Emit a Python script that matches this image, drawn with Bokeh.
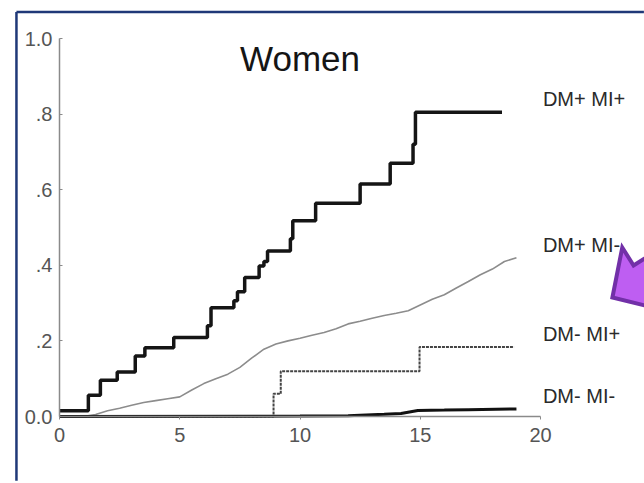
from bokeh.plotting import figure
from bokeh.models import Range1d, LinearAxis, FixedTicker, Label, ColumnDataSource
from bokeh.core.properties import value
from bokeh.embed import file_html
from bokeh.resources import INLINE

# ---- data ----
title_text = "Women"
x_ticks = [0, 5, 10, 15, 20]
y_ticks = [0.0, 0.2, 0.4, 0.6, 0.8, 1.0]
y_tick_labels = ["0.0", ".2", ".4", ".6", ".8", "1.0"]

# DM+ MI+ (thick black step curve)
dmp_mip_x = [0, 1.2, 1.7, 2.4, 3.15, 3.55, 4.75, 6.15, 6.3, 7.25, 7.4, 7.7, 8.3, 8.5, 8.65,
             9.6, 9.7, 10.65, 12.5, 13.75, 14.7, 14.8, 18.4]
dmp_mip_y = [0.015, 0.056, 0.096, 0.118, 0.16, 0.182, 0.209, 0.24, 0.288, 0.306, 0.33, 0.368, 0.398, 0.41, 0.438,
             0.47, 0.518, 0.564, 0.615, 0.67, 0.72, 0.805, 0.805]

# DM+ MI- (thin grey, finely jagged curve)
dmp_mim_x = [0, 1.0, 1.5, 2.0, 2.5, 3.0, 3.5, 4.0, 4.5, 5.0, 5.5, 6.0, 6.5, 7.0, 7.5, 8.0, 8.5, 9.0, 9.5,
             10.0, 10.5, 11.0, 11.5, 12.0, 12.5, 13.0, 13.5, 14.0, 14.5, 15.0, 15.5, 16.0, 16.5, 17.0,
             17.5, 18.0, 18.5, 19.0]
dmp_mim_y = [0, 0, 0.005, 0.015, 0.022, 0.03, 0.037, 0.042, 0.047, 0.052, 0.07, 0.087, 0.1, 0.112, 0.13,
             0.155, 0.178, 0.192, 0.2, 0.207, 0.215, 0.222, 0.232, 0.245, 0.252, 0.26, 0.267, 0.273, 0.28,
             0.295, 0.31, 0.322, 0.34, 0.357, 0.375, 0.39, 0.41, 0.42]

# DM- MI+ (dotted step curve)
dmm_mip_x = [0, 8.9, 9.2, 14.97, 18.9]
dmm_mip_y = [0, 0.06, 0.12, 0.184, 0.184]

# DM- MI- (thick black, near zero)
dmm_mim_x = [0, 10.0, 12.0, 13.5, 14.2, 14.9, 16.0, 17.0, 19.0]
dmm_mim_y = [0, 0.001, 0.002, 0.006, 0.008, 0.016, 0.017, 0.018, 0.02]

series_labels = ["DM+ MI+", "DM+ MI-", "DM- MI+", "DM- MI-"]
series_last = [dmp_mip_y[-1], dmp_mim_y[-1], dmm_mip_y[-1], dmm_mim_y[-1]]

FONT = "Liberation Sans"

# ---- figure: the frame covers the whole canvas ----
W, H = 644, 483
px_per_x = 24.05
px_per_y = 378.0
x0_px, y0_px = 59.0, 416.0
x_range = Range1d(-x0_px / px_per_x, (W - x0_px) / px_per_x)
y_range = Range1d(-(H - y0_px) / px_per_y, y0_px / px_per_y)

p = figure(width=W, height=H, x_range=x_range, y_range=y_range, title=None,
           x_axis_type=None, y_axis_type=None, toolbar_location=None,
           output_backend="svg", min_border=0)
p.outline_line_color = None
p.background_fill_color = "white"
p.border_fill_color = "white"

# axes
xaxis = LinearAxis(fixed_location=0, bounds=(0, 20), ticker=FixedTicker(ticks=x_ticks))
xaxis.axis_line_color = "#8a8a8a"
xaxis.axis_line_width = 1.5
xaxis.major_tick_line_color = "#8a8a8a"
xaxis.major_tick_out = 3
xaxis.major_tick_in = 0
xaxis.minor_tick_line_color = None
xaxis.major_label_text_font = FONT
xaxis.major_label_text_font_size = "20px"
xaxis.major_label_text_color = "#555555"
xaxis.major_label_standoff = 8
p.add_layout(xaxis, "below")

yaxis = LinearAxis(fixed_location=0, bounds=(0, 1), ticker=FixedTicker(ticks=y_ticks),
                   major_label_overrides={t: l for t, l in zip(y_ticks, y_tick_labels)})
yaxis.axis_line_color = "#8a8a8a"
yaxis.axis_line_width = 1.5
yaxis.major_tick_line_color = "#8a8a8a"
yaxis.major_tick_out = 0
yaxis.major_tick_in = 3
yaxis.minor_tick_line_color = None
yaxis.major_label_text_font = FONT
yaxis.major_label_text_font_size = "20px"
yaxis.major_label_text_color = "#555555"
yaxis.major_label_standoff = 7
p.add_layout(yaxis, "left")

# slide frame border (navy): left and top edges
p.segment(x0=[-1.79, -1.79], y0=[-0.17, 1.07], x1=[-1.79, 24.3], y1=[1.07, 1.07],
          line_color="#1f3878", line_width=2.5)

# curves
p.line(dmp_mim_x, dmp_mim_y, line_color="#8c8c8c", line_width=1.6)
p.step(dmm_mip_x, dmm_mip_y, mode="after", line_color="#444444", line_width=2, line_dash="3 1")
p.line(dmm_mim_x, dmm_mim_y, line_color="#111111", line_width=3)
p.step(dmp_mip_x, dmp_mip_y, mode="after", line_color="#151515", line_width=3.5)

# series labels at the right
lab_src = ColumnDataSource(dict(x=[20.1] * len(series_labels),
                                y=[v + 0.035 for v in series_last],
                                text=series_labels))
p.text(x="x", y="y", text="text", source=lab_src, text_font=value(FONT),
       text_font_size="20px", text_color="#2a2a2a", text_align="left", text_baseline="middle")

# title inside plot
p.add_layout(Label(x=10, y=0.947, text=title_text, text_font=FONT, text_font_size="35px",
                   text_color="#151515", text_align="center", text_baseline="alphabetic"))

# purple block arrow (decoration)
arrow_x = [22.99, 23.40, 23.87, 27.38, 28.08, 24.57, 25.05]
arrow_y = [0.3148, 0.4471, 0.3995, 0.5413, 0.4712, 0.3294, 0.2825]
p.patch(arrow_x, arrow_y, fill_color="#be5ef2", line_color="#7230a8", line_width=4, line_join="miter")

open("out.html", "w").write(file_html(p, INLINE))
